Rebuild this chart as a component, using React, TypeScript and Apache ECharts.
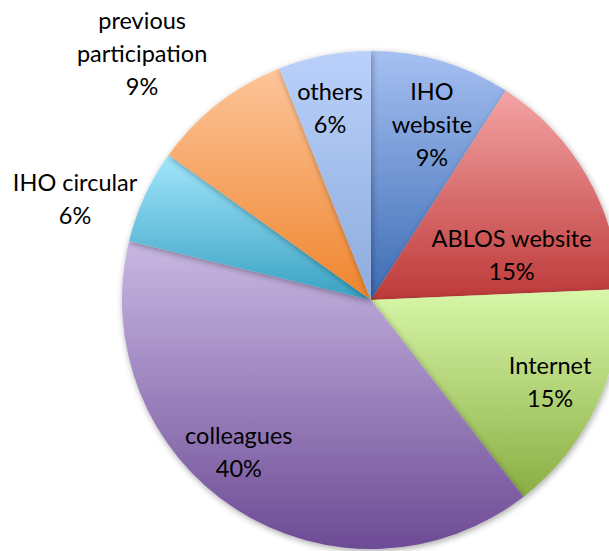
import React, { useEffect, useRef } from "react";
import * as echarts from "echarts";

const categories = [
  "IHO website",
  "ABLOS website",
  "Internet",
  "colleagues",
  "IHO circular",
  "previous participation",
  "others",
];
// slice shares as measured from the pie angles
const values = [9.1, 15.2, 15.2, 39.3, 6.1, 9.1, 6.0];
// percentages printed on the labels
const labelPercents = ["9%", "15%", "15%", "40%", "6%", "9%", "6%"];
const labelTexts = [
  "IHO\nwebsite",
  "ABLOS website",
  "Internet",
  "colleagues",
  "IHO circular",
  "previous\nparticipation",
  "others",
];
const topColors = ["#a6c0f2", "#f4a4a4", "#d8f7a9", "#c9b8e3", "#a2e6fc", "#fdc59a", "#bad1fb"];
const bottomColors = ["#3c6cb3", "#bd3939", "#8aae43", "#6d4b95", "#38a1c2", "#ef842d", "#8dabdc"];
// label placement: [angle in degrees (math), fraction of radius]
const labelPolar: [number, number][] = [
  [70.9, 0.748],
  [18.1, 0.594],
  [-24.6, 0.791],
  [228.8, 0.806],
  [161.0, 1.257],
  [132.8, 1.353],
  [102.0, 0.792],
];

const CX = 371;
const CY = 300;
const R = 249;

export default function App() {
  const ref = useRef<HTMLDivElement>(null);
  useEffect(() => {
    if (!ref.current) return;
    const chart = echarts.init(ref.current, undefined, { renderer: "svg" });
    chart.setOption({
      animation: false,
      backgroundColor: "#ffffff",
      series: [
        {
          type: "pie",
          center: [CX, CY],
          radius: [0, R],
          startAngle: 90,
          clockwise: true,
          avoidLabelOverlap: false,
          label: {
            show: true,
            position: "inside",
            formatter: (p: any) => labelTexts[p.dataIndex] + "\n" + labelPercents[p.dataIndex],
            fontFamily: "Lato, 'Noto Sans', sans-serif",
            fontSize: 23.5,
            lineHeight: 33,
            color: "#000000",
            align: "center",
            verticalAlign: "middle",
          },
          labelLine: { show: false },
          labelLayout: (params: any) => {
            const [ang, frac] = labelPolar[params.dataIndex];
            const a = (ang * Math.PI) / 180;
            return {
              x: CX + R * frac * Math.cos(a),
              y: CY - R * frac * Math.sin(a),
              align: "center",
              verticalAlign: "middle",
            };
          },
          itemStyle: {
            borderWidth: 0,
            shadowBlur: 6,
            shadowColor: "rgba(0,0,0,0.35)",
            shadowOffsetX: 1,
            shadowOffsetY: 2,
          },
          emphasis: { disabled: true },
          data: categories.map((name, i) => ({
            name,
            value: values[i],
            itemStyle: {
              color: new echarts.graphic.LinearGradient(0, 0, 0, 1, [
                { offset: 0, color: topColors[i] },
                { offset: 1, color: bottomColors[i] },
              ]),
            },
          })),
        },
      ],
    });
    return () => chart.dispose();
  }, []);
  return (
    <div
      ref={ref}
      style={{ position: "absolute", left: 0, top: 0, width: 609, height: 551 }}
    />
  );
}
